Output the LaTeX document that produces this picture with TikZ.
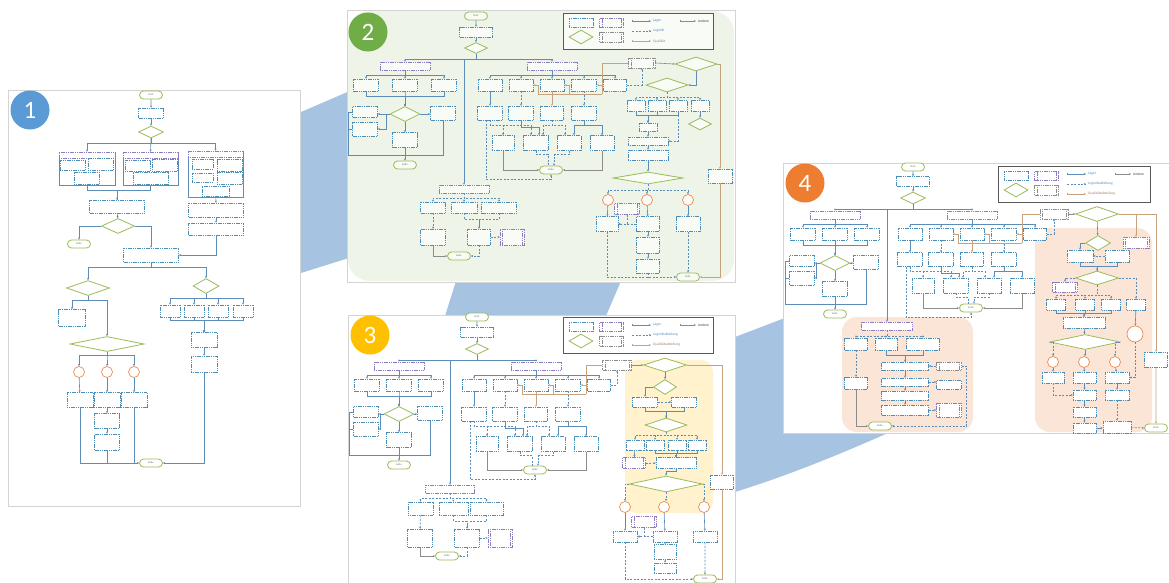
\documentclass[tikz,border=0pt]{standalone}
\usepackage{fontspec}
\setmainfont{Carlito}
\usetikzlibrary{arrows.meta,shapes.geometric,shapes.misc}

\definecolor{lnc}{HTML}{5B8DB8}
\definecolor{bxc}{HTML}{4A8DB7}
\definecolor{olv}{HTML}{9BBB59}
\definecolor{ppl}{HTML}{8E7CC3}
\definecolor{org}{HTML}{F08A4B}
\definecolor{brn}{HTML}{C8A27C}
\definecolor{gry}{HTML}{8C8C8C}
\definecolor{band}{HTML}{A6C3E1}
\definecolor{gbg}{HTML}{EEF4E8}
\definecolor{ybg}{HTML}{FFF2CC}
\definecolor{pbg}{HTML}{FBE5D6}
\definecolor{frm}{HTML}{D4D4D4}
\definecolor{nblue}{HTML}{5B9BD5}
\definecolor{ngreen}{HTML}{70AD47}
\definecolor{ngold}{HTML}{FFC000}
\definecolor{norange}{HTML}{ED7D31}
\colorlet{boxfill}{white}

\tikzset{
  ar/.style={-{Stealth[length=2.2pt,width=2pt]}},
  ln/.style={draw=lnc,line width=0.6pt},
  lg/.style={ln,dash pattern=on 2pt off 1.5pt},
  ql/.style={draw=brn,line width=0.6pt},
  an/.style={draw=gry,line width=0.6pt},
  bx/.style={draw=bxc,line width=0.5pt,dash pattern=on 1.2pt off 0.6pt,fill=boxfill,inner sep=0pt},
  grp/.style={draw=lnc,line width=0.5pt,fill=boxfill,inner sep=0pt},
  hd/.style={draw=ppl,line width=0.5pt,dash pattern=on 1.2pt off 0.6pt,fill=boxfill,inner sep=0pt},
  dm/.style={diamond,draw=olv,line width=0.8pt,fill=boxfill,inner sep=0pt},
  tm/.style={rounded rectangle,draw=olv,line width=0.8pt,fill=boxfill,inner sep=0pt,
    minimum width=23pt,minimum height=8pt,font=\fontsize{2.6}{3}\selectfont,text=black!60},
  oc/.style={circle,draw=org,line width=0.7pt,fill=boxfill,inner sep=0pt,minimum size=11pt},
  cd/.style={chamfered rectangle,chamfered rectangle corners=north west,
    chamfered rectangle xsep=2pt,draw=bxc,line width=0.5pt,dash pattern=on 1.2pt off 0.6pt,
    fill=boxfill,inner sep=0pt},
  sb/.style={draw=#1,line width=0.5pt,dash pattern=on 1.2pt off 0.6pt,fill=boxfill,inner sep=0pt,
    path picture={\draw[draw=#1,line width=0.4pt]
      ([xshift=2.2pt]path picture bounding box.north west) -- ([xshift=2.2pt]path picture bounding box.south west)
      ([xshift=-2.2pt]path picture bounding box.north east) -- ([xshift=-2.2pt]path picture bounding box.south east);}},
  lgf/.style={draw=black!65,line width=0.8pt,fill=boxfill,inner sep=0pt},
  lt/.style={anchor=west,inner sep=0pt,font=\fontsize{3.6}{4}\selectfont},
  num/.style={circle,minimum size=39pt,inner sep=0pt,text=white,font=\fontsize{25}{25}\selectfont},
  pnl/.style={draw=frm,line width=0.8pt,fill=white},
}

% basic flowchart elements: name, x, y, width, height
\newcommand\fcB[5]{\node[bx,minimum width=#4pt,minimum height=#5pt] (#1) at ({#2},{#3}) {};}
\newcommand\fcD[5]{\node[dm,minimum width=#4pt,minimum height=#5pt] (#1) at ({#2},{#3}) {};}
\newcommand\fcT[4]{\node[tm] (#1) at ({#2},{#3}) {#4};}
\newcommand\fcC[3]{\node[oc] (#1) at ({#2},{#3}) {};}
\newcommand\fcH[5]{\node[hd,minimum width=#4pt,minimum height=#5pt] (#1) at ({#2},{#3}) {};}
\newcommand\fcK[5]{\node[cd,minimum width=#4pt,minimum height=#5pt] (#1) at ({#2},{#3}) {};}
\newcommand\fcS[6]{\node[sb=#6,minimum width=#4pt,minimum height=#5pt] (#1) at ({#2},{#3}) {};}

% left branch: prefix, centre x, header y, column spacing
\newcommand\fcleft[4]{%
  \fcH{#1h1}{#2}{#3}{50}{8}
  \fcB{#1a1}{#2-#4}{#3+19}{25}{12}
  \fcB{#1a2}{#2}{#3+19}{25}{12}
  \fcB{#1a3}{#2+#4}{#3+19}{25}{12}
  \fcD{#1d2}{#2}{#3+48}{30}{15}
  \fcB{#1a4}{#2-#4-1}{#3+46}{25}{11}
  \fcB{#1a5}{#2-#4-1}{#3+63}{25}{14}
  \fcB{#1a6}{#2+#4-1}{#3+47}{25}{14}
  \fcB{#1a7}{#2}{#3+74}{25}{15}
  \fcT{#1e1}{#2}{#3+99}{Ende}
  \foreach \k in {1,2,3}{%
    \draw[ln,ar] (#1h1.south) -- ++(0,5) -| (#1a\k.north);
    \draw[ln,ar] (#1a\k.south) -- ++(0,5) -| (#1d2.north);}
  \draw[ln,ar] (#1d2.west) -- (#1d2.west -| #1a4.east);
  \draw[ln,ar] (#1d2.west) -- ++(-3,0) |- (#1a5.east);
  \draw[ln,ar] (#1d2.east) -- (#1d2.east -| #1a6.west);
  \draw[ln,ar] (#1d2.south) -- (#1a7.north);
  \draw[ln,ar] (#1a7) -- (#1e1);
  \draw[ln] (#1a6.south) |- ({#2-#4-18},{#3+89}) |- (#1a4.west);
  \draw[ln] (#1a5.west) -- ({#2-#4-18},{#3+63});
}

% middle branch: prefix, centre x, header y, row 2 y, row 3 y, end y
\newcommand\fcmid[6]{%
  \fcH{#1h2}{#2}{#3}{50}{8}
  \fcB{#1m1}{#2-62}{#3+19}{24}{12}
  \fcB{#1m2}{#2-31}{#3+19}{24}{12}
  \fcB{#1m3}{#2}{#3+19}{24}{12}
  \fcB{#1m4}{#2+32}{#3+19}{25}{12}
  \fcB{#1m5}{#2+63}{#3+19}{23}{12}
  \fcB{#1n1}{#2-62}{#4}{25}{14}
  \fcB{#1n2}{#2-31}{#4}{25}{14}
  \fcB{#1n3}{#2}{#4}{23}{14}
  \fcB{#1n4}{#2+32}{#4}{25}{14}
  \fcB{#1o1}{#2-49}{#5}{22}{15}
  \fcB{#1o2}{#2-16}{#5}{25}{15}
  \fcB{#1o3}{#2+17}{#5}{24}{15}
  \fcB{#1o4}{#2+50}{#5}{24}{15}
  \fcT{#1e2}{#2-1}{#6}{Ende}
  \coordinate (#1brn) at ({#2+50},{#3+28});
  \foreach \k in {1,...,5}{\draw[ln,ar] (#1h2.south) -- ++(0,5) -| (#1m\k.north);}
  \draw[ln,ar] (#1m1) -- (#1n1);
  \draw[lg,ar] (#1m2) -- (#1n2);
  \draw[ql,ar] (#1m3) -- (#1n3);
  \draw[lg,ar] (#1m4) -- (#1n4);
  \draw[ql] (#1brn) -- ({#2-14},{#3+28});
  \draw[ql,ar] ({#2-14},{#3+28}) |- (#1m2.east);
  \draw[ql,ar] ({#2+17},{#3+28}) |- (#1m3.east);
  \draw[ql,ar] (#1brn) |- (#1m4.east);
  \draw[lg,ar] (#1n1.south) -- ++(0,5) -| (#1o1.north);
  \draw[lg,ar] (#1n1.south) -- ++(0,5) -| ([xshift=-5pt]#1o2.north);
  \draw[ln,ar] (#1n2.south) -- ++(0,7) -| ([xshift=3pt]#1o2.north);
  \draw[lg,ar] (#1n3.south) -- ++(0,5) -| ([xshift=-4pt]#1o3.north);
  \draw[lg,ar] (#1n3.south) -- ++(0,5) -| ([xshift=7pt]#1o2.north);
  \draw[ln,ar] (#1n4.south) -- ++(0,5) -| (#1o4.north);
  \draw[ln,ar] (#1n4.south) -- ++(0,5) -| ([xshift=5pt]#1o3.north);
  \draw[an,ar] (#1o1.south) |- (#1e2.west);
  \draw[an,ar] (#1o4.south) |- (#1e2.east);
  \draw[lg] (#1o2.south) -- ++(0,4) -| ([xshift=-3pt]#1e2.north);
  \draw[lg,ar] (#1o3.south) -- ++(0,4) -| ([xshift=3pt]#1e2.north);
  \draw[lg,ar] ([xshift=-4pt]#1n1.south) |- ([yshift=-5pt]#1e2.south) -- (#1e2.south);
}

% legend: prefix, left x, top y, width, second label, third label
\newcommand\fcleg[6]{%
  \node[lgf,minimum width=#4pt,minimum height=36pt,anchor=north west] (#1L) at ({#2},{#3}) {};
  \fcB{#1L1}{#2+18}{#3+10}{24}{9}
  \fcD{#1L2}{#2+18}{#3+24}{24}{14}
  \fcS{#1L3}{#2+48.5}{#3+10}{24}{9}{ppl}
  \fcS{#1L4}{#2+48.5}{#3+24}{24}{10}{gry}
  \coordinate (#1La) at ({#2+69},{#3+8});
  \coordinate (#1Lc) at ({#2+69},{#3+18});
  \coordinate (#1Le) at ({#2+69},{#3+28});
  \coordinate (#1Lg) at ({#2+117},{#3+8});
  \node[lt,text=lnc] (#1Lb) at ({#2+90},{#3+8}) {Lager};
  \node[lt,text=lnc] (#1Ld) at ({#2+90},{#3+18}) {#5};
  \node[lt,text=brn!80!black] (#1Lf) at ({#2+90},{#3+28}) {#6};
  \node[lt,text=black!75] (#1Lh) at ({#2+135},{#3+8}) {Andere};
  \draw[ln,ar] ([yshift=1.5pt]#1La) -- (#1La) -- ([xshift=-2pt]#1Lb.west);
  \draw[lg,ar] (#1Lc) -- ([xshift=-2pt]#1Ld.west);
  \draw[ql,ar] ([yshift=1.5pt]#1Le) -- (#1Le) -- ([xshift=-2pt]#1Lf.west);
  \draw[an,ar] ([yshift=1.5pt]#1Lg) -- (#1Lg) -- ([xshift=-2pt]#1Lh.west);
}

\begin{document}
\begin{tikzpicture}[x=1pt,y=-1pt]
\useasboundingbox (0,0) rectangle (1169,582);

% bands joining the sheets
\fill[band] (301,112) -- (352,90) -- (352,257) -- (301,273) -- cycle;
\fill[band] (456,281) -- (621,281) -- (606,316) -- (445,316) -- cycle;
\fill[band] (735,337) -- (790,316) -- (790,433) -- (888,433)
  .. controls (845,452) and (790,475) .. (735,492) -- cycle;

% sheets and highlighted areas
\draw[pnl] (8,90) rectangle (300,506);
\draw[pnl] (347,10) rectangle (735,282);
\fill[gbg,rounded corners=22pt] (348,11) rectangle (734,281);
\draw[pnl] (348,315) rectangle (735,590);
\fill[ybg,rounded corners=12pt] (625,360) rectangle (713,513);
\draw[pnl] (783,163) rectangle (1175,433);
\fill[pbg,rounded corners=15pt] (842,317) rectangle (973,432);
\fill[pbg,rounded corners=15pt] (1035,228) rectangle (1152,432);

% ================= sheet 1 =================
\fcT{p1s}{151}{95}{Start}
\fcB{p1b1}{151}{113}{25}{10}
\fcD{p1d1}{151}{132}{25}{12}
\node[grp,minimum width=56pt,minimum height=33pt] (p1g1) at (87,168.5) {};
\node[hd,minimum width=56pt,minimum height=6pt,anchor=north] (p1h1) at (p1g1.north) {};
\fcB{p1g1a}{72.5}{165}{25}{10}
\fcB{p1g1b}{100.5}{164}{25}{12}
\fcB{p1g1c}{86.5}{178}{25}{12}
\node[grp,minimum width=55pt,minimum height=33pt] (p1g2) at (150.5,168.5) {};
\node[hd,minimum width=55pt,minimum height=6pt,anchor=north] (p1h2) at (p1g2.north) {};
\fcB{p1g2a}{137.5}{165.5}{25}{11}
\fcB{p1g2b}{164.5}{165}{25}{12}
\fcB{p1g2c}{150.5}{178}{35}{12}
\node[grp,minimum width=55pt,minimum height=46pt] (p1g3) at (215.5,174) {};
\node[hd,minimum width=55pt,minimum height=6pt,anchor=north] (p1h3) at (p1g3.north) {};
\fcB{p1g3a}{202.5}{164}{21}{10}
\fcB{p1g3b}{229.5}{165.5}{25}{12}
\fcB{p1g3c}{202.5}{177.5}{21}{9}
\fcB{p1g3d}{229.5}{178}{25}{12}
\fcB{p1g3e}{215.5}{191}{27}{10}
\fcB{p1b2}{117}{206.5}{55}{13}
\fcD{p1d2}{118}{226}{33}{15}
\fcT{p1e1}{79}{244}{Ende}
\fcB{p1b3}{151}{255}{55}{14}
\fcB{p1b4}{216}{210}{55}{14}
\fcB{p1b5}{216}{229}{55}{12}
\fcD{p1d3}{88}{288}{43}{15}
\fcD{p1d4}{206}{286}{26}{15}
\fcB{p1b6}{72}{318}{27}{17}
\fcD{p1d5}{107}{344}{74}{15}
\fcC{p1c1}{79}{372}
\fcC{p1c2}{107}{372}
\fcC{p1c3}{134}{372}
\fcB{p1b7}{80}{400}{26}{15}
\fcB{p1b8}{107}{400}{26}{15}
\fcB{p1b9}{134}{400}{26}{15}
\fcB{p1b10}{107}{421}{25}{15}
\fcB{p1b11}{107}{442}{25}{16}
\fcT{p1e2}{151}{463}{Ende}
\fcK{p1k1}{170}{311}{20}{12}
\fcK{p1k2}{194}{311}{20}{12}
\fcK{p1k3}{218}{311}{20}{12}
\fcK{p1k4}{243}{311}{20}{12}
\fcB{p1b12}{204}{340}{26}{15}
\fcB{p1b13}{204}{364}{26}{16}

\draw[ln,ar] (p1s) -- (p1b1);
\draw[ln,ar] (p1b1) -- (p1d1);
\draw[ln,ar] (p1d1.south) -- ++(0,5) -| (p1g1.north);
\draw[ln,ar] (p1d1.south) -- (p1g2.north);
\draw[ln,ar] (p1d1.south) -- ++(0,5) -| (p1g3.north);
\draw[ln,ar] (p1g1.south) -- ++(0,5) -| (p1b2.north);
\draw[ln] (p1g2.south) -- ++(0,5) -| (p1b2.north);
\draw[ln,ar] (p1g3) -- (p1b4);
\draw[ln,ar] (p1b4) -- (p1b5);
\draw[ln,ar] (p1b2) -- (p1d2);
\draw[ln,ar] (p1d2.west) -| (p1e1.north);
\draw[ln,ar] (p1d2.east) -| (p1b3.north);
\draw[ln,ar] (p1b5.south) |- (p1b3.east);
\draw[ln,ar] (p1b3.south) -- ++(0,5) -| (p1d3.north);
\draw[ln,ar] (p1b3.south) -- ++(0,5) -| (p1d4.north);
\draw[ln,ar] (p1d3.south) -- ++(0,4.5) -| (p1b6.north);
\draw[ln,ar] (p1d3.south) -- ++(0,4.5) -| (p1d5.north);
\foreach \k in {1,2,3}{\draw[ln,ar] (p1d5.south) -- ++(0,3.5) -| (p1c\k.north);}
\draw[ln,ar] (p1c1) -- (p1b7);
\draw[ln,ar] (p1c2) -- (p1b8);
\draw[ln,ar] (p1c3) -- (p1b9);
\draw[ln,ar] (p1b8) -- (p1b10);
\draw[ln,ar] (p1b10) -- (p1b11);
\draw[ln,ar] (p1b7.south) |- (p1e2.west);
\draw[ln] (p1b11.south) -- (p1b11.south |- p1e2.west);
\draw[ln] (p1b9.south) -- (p1b9.south |- p1e2.west);
\foreach \k in {1,2,3,4}{%
  \draw[ln,ar] (p1d4.south) -- ++(0,4.5) -| (p1k\k.north);
  \draw[ln,ar] (p1k\k.south) -- ++(0,3) -| (p1b12.north);}
\draw[ln,ar] (p1b12) -- (p1b13);
\draw[ln,ar] (p1b13.south) |- (p1e2.east);

% ================= sheet 2 =================
\begin{scope}
\colorlet{boxfill}{gbg!40!white}
\fcT{p2s}{476}{16}{Start}
\fcB{p2b1}{476}{32}{33}{10}
\fcD{p2d1}{476}{48}{23}{11}
\fcleft{p2}{405}{66}{39}
\fcmid{p2}{552}{66}{113}{143}{170}
\fcH{p2h3}{464}{189}{50}{8}
\draw[ln,ar] (p2s) -- (p2b1);
\draw[ln,ar] (p2b1) -- (p2d1);
\draw[ln,ar] (p2d1.south) -- ++(0,5) -| (p2h1.north);
\draw[ln,ar] (p2d1.south) -- ++(0,5) -| (p2h2.north);
\draw[ln,ar] (p2d1.south) -- ++(0,5) -| (p2h3.north);
% delivery branch
\fcB{p2l1}{433}{207.5}{25}{11}
\fcB{p2l2}{464}{207.5}{26}{11}
\fcB{p2l3}{499}{207.5}{35}{11}
\fcB{p2l4}{433}{237}{25}{16}
\fcB{p2l5}{479}{237}{23}{16}
\fcS{p2l6}{512}{237}{24}{16}{ppl}
\fcT{p2e4}{459}{256}{Ende}
\foreach \k in {1,2,3}{\draw[lg,ar] (p2h3.south) -- ++(0,5) -| (p2l\k.north);}
\draw[lg,ar] (p2l1) -- (p2l4);
\draw[lg] (p2l2.south) -- ++(0,6) -| (p2l5.north);
\draw[lg,ar] (p2l3.south) -- ++(0,6) -| (p2l5.north);
\draw[lg,ar] (p2l5.east) -- (p2l6.west);
\draw[an,ar] (p2l4.south) |- (p2e4.west);
\draw[lg,ar] (p2l5.south) |- (p2e4.east);
% quality branch
\fcS{p2q1}{642}{63}{27}{10}{gry}
\fcD{p2d3}{696}{64}{42}{14}
\fcD{p2d4}{667}{85}{42}{14}
\fcK{p2k1}{636}{106}{18}{11}
\fcK{p2k2}{657}{106}{18}{11}
\fcK{p2k3}{678}{106}{18}{11}
\fcK{p2k4}{700}{106}{18}{11}
\fcD{p2d5}{700}{124}{23}{12}
\fcB{p2r1}{648}{127}{18}{8}
\fcB{p2r2}{648}{141}{40}{8}
\fcB{p2r3}{648}{155}{40}{10}
\fcD{p2d6}{648}{178}{70}{12}
\fcC{p2c1}{608}{200}
\fcC{p2c2}{647}{200}
\fcC{p2c3}{688}{200}
\fcS{p2r4}{627}{209}{25}{11}{ppl}
\fcB{p2r5}{607}{224}{22}{15}
\fcB{p2r6}{648}{224}{23}{15}
\fcB{p2r7}{688}{224}{24}{15}
\fcB{p2r8}{648}{245}{23}{16}
\fcB{p2r9}{648}{266}{23}{14}
\fcT{p2e3}{688}{277}{Ende}
\fcB{p2r10}{720}{176}{24}{14}
\draw[lg,ar] (p2m5.east) -| (p2q1.south);
\draw[ql] (p2q1.west) -| (p2brn);
\draw[an,ar] (p2q1.east) -- (p2d3.west);
\draw[ql,ar] (p2d3.east) -| (p2r10.north);
\draw[ln,ar] (p2d3.south) |- (p2d4.east);
\foreach \k in {1,2,3,4}{\draw[lg,ar] (p2d4.south) -- ++(0,5) -| (p2k\k.north);}
\foreach \k in {1,2,3}{\draw[ln,ar] (p2k\k.south) -- ++(0,4) -| (p2r1.north);}
\draw[ln,ar] (p2k4) -- (p2d5);
\draw[lg,ar] (p2k3.south) |- (p2r2.east);
\draw[ln,ar] (p2r1) -- (p2r2);
\draw[ln,ar] (p2r2) -- (p2r3);
\draw[ln,ar] (p2r3) -- (p2d6);
\foreach \k in {1,2,3}{\draw[lg,ar] (p2d6.south) -- ++(0,6) -| (p2c\k.north);}
\draw[ln,ar] (p2c1) -- (p2r5);
\draw[ln,ar] (p2c2) -- (p2r6);
\draw[ln,ar] (p2c3) -- (p2r7);
\draw[lg,ar] (p2r6.west) -- (p2r5.east);
\draw[lg,ar] (p2r4.south) |- (p2r5.east);
\draw[ln,ar] (p2r6) -- (p2r8);
\draw[ln,ar] (p2r8) -- (p2r9);
\draw[lg,ar] (p2r5.south) |- (p2e3.west);
\draw[lg,ar] (p2r7) -- (p2e3);
\draw[lg] (p2r9.south) -- (p2r9.south |- p2e3.west);
\draw[ql,ar] (p2r10.south) |- (p2e3.east);
\fcleg{p2}{563}{13}{150}{Logistik}{Qualität}
\end{scope}

% ================= sheet 3 =================
\fcT{p3s}{477}{317}{Start}
\fcB{p3b1}{477}{332}{33}{10}
\fcD{p3d1}{477}{349}{23}{11}
\fcleft{p3}{399}{366}{32}
\fcmid{p3}{536}{366}{414}{444}{470}
\fcH{p3h3}{450}{489}{49}{8}
\draw[ln,ar] (p3s) -- (p3b1);
\draw[ln,ar] (p3b1) -- (p3d1);
\draw[ln,ar] (p3d1.south) -- ++(0,5) -| (p3h1.north);
\draw[ln,ar] (p3d1.south) -- ++(0,5) -| (p3h2.north);
\draw[ln,ar] (p3d1.south) -- ++(0,5) -| (p3h3.north);
% delivery branch
\fcB{p3l1}{420.5}{508.5}{25}{13}
\fcB{p3l2}{453.5}{508.5}{29}{13}
\fcB{p3l3}{486.5}{508.5}{33}{13}
\fcB{p3l4}{420}{538}{25}{18}
\fcB{p3l5}{467}{538}{25}{18}
\fcS{p3l6}{500}{538}{24}{18}{ppl}
\fcT{p3e4}{447}{556}{Ende}
\foreach \k in {1,2,3}{\draw[lg,ar] (p3h3.south) -- ++(0,5) -| (p3l\k.north);}
\draw[lg,ar] (p3l1) -- (p3l4);
\draw[lg] (p3l2.south) -- ++(0,6) -| (p3l5.north);
\draw[lg,ar] (p3l3.south) -- ++(0,6) -| (p3l5.north);
\draw[lg,ar] (p3l5.east) -- (p3l6.west);
\draw[an,ar] (p3l4.south) |- (p3e4.west);
\draw[lg,ar] (p3l5.south) |- (p3e4.east);
% quality branch
\fcS{p3q1}{617}{365}{29}{10}{gry}
\fcD{p3d3}{665}{365}{43}{14}
\fcD{p3d4}{665}{387}{23}{15}
\fcB{p3r1}{645}{402}{25}{10}
\fcB{p3r2}{684}{402}{25}{10}
\fcD{p3d5}{666}{425}{42}{14}
\fcK{p3k1}{635}{445}{18}{10}
\fcK{p3k2}{655}{445}{18}{10}
\fcK{p3k3}{677}{445}{18}{10}
\fcK{p3k4}{697}{445}{18}{10}
\fcS{p3r3}{634}{463}{23}{11}{ppl}
\fcB{p3r4}{676}{463}{40}{11}
\fcD{p3d6}{666}{484}{73}{16}
\fcC{p3c1}{625}{507}
\fcC{p3c2}{664}{507}
\fcC{p3c3}{704}{507}
\fcS{p3r5}{644}{522}{25}{11}{ppl}
\fcB{p3r6}{625}{536.5}{24}{11}
\fcB{p3r7}{665}{536.5}{24}{11}
\fcB{p3r8}{705}{536.5}{24}{11}
\fcB{p3r9}{665}{552}{22}{15}
\fcB{p3r10}{665}{568}{22}{10}
\fcT{p3e3}{705}{579}{Ende}
\fcB{p3r11}{722}{482}{23}{14}
\draw[lg,ar] (p3m5.east) -| (p3q1.south);
\draw[ql] (p3q1.west) -| (p3brn);
\draw[an,ar] (p3q1.east) -- (p3d3.west);
\draw[ql,ar] (p3d3.east) -| (p3r11.north);
\draw[ln,ar] (p3d3) -- (p3d4);
\draw[ln,ar] (p3d4.west) -| (p3r1.north);
\draw[lg,ar] (p3r1.east) -- (p3r2.west);
\draw[ln] (p3r1.south) -- ++(0,4) -| (p3d5.north);
\draw[ln,ar] (p3r2.south) -- ++(0,4) -| (p3d5.north);
\foreach \k in {1,2,3,4}{\draw[lg,ar] (p3d5.south) -- ++(0,3) -| (p3k\k.north);}
\draw[ln,ar] (p3k1) -- (p3r3);
\foreach \k in {2,3,4}{\draw[ln,ar] (p3k\k.south) -- ++(0,3) -| (p3r4.north);}
\draw[lg,ar] (p3r3.east) -- (p3r4.west);
\draw[ln,ar] (p3r4.south) -- ++(0,3) -| (p3d6.north);
\draw[lg,ar] (p3d6.west) -| (p3c1.north);
\draw[lg,ar] (p3d6.south) -- (p3d6.south |- p3c2.north);
\draw[lg,ar] (p3d6.east) -| (p3c3.north);
\draw[ln,ar] (p3c1) -- (p3r6);
\draw[ln,ar] (p3c2) -- (p3r7);
\draw[ln,ar] (p3c3) -- (p3r8);
\draw[lg,ar] (p3r7.west) -- (p3r6.east);
\draw[lg,ar] (p3r5.south) |- (p3r6.east);
\draw[ln,ar] (p3r7) -- (p3r9);
\draw[ln,ar] (p3r9) -- (p3r10);
\draw[lg,ar] (p3r6.south) |- (p3e3.west);
\draw[lg,ar] (p3r8) -- (p3e3);
\draw[ql,ar] (p3r11.south) |- (p3e3.east);
\fcleg{p3}{563}{317}{150}{Logistikabteilung}{Qualitätsabteilung}

% ================= sheet 4 =================
\fcT{p4s}{913}{167}{Start}
\fcB{p4b1}{913}{181.5}{33}{10}
\fcD{p4d1}{913}{198}{25}{12}
\fcleft{p4}{835}{215}{32}
\fcmid{p4}{972}{215}{259.5}{285.5}{308}
\fcH{p4h3}{887}{326}{51}{8}
\draw[ln,ar] (p4s) -- (p4b1);
\draw[ln,ar] (p4b1) -- (p4d1);
\draw[ln,ar] (p4d1.south) -- ++(0,5) -| (p4h1.north);
\draw[ln,ar] (p4d1.south) -- ++(0,5) -| (p4h2.north);
\draw[ln,ar] (p4d1.south) -- ++(0,5) -| (p4h3.north);
% delivery branch
\fcB{p4l1}{856}{344}{23}{12}
\fcB{p4l2}{886}{344}{22}{12}
\fcB{p4l3}{923}{344}{33}{12}
\fcB{p4l4}{856}{383}{23}{12}
\fcB{p4f1}{905}{366}{47}{8}
\fcS{p4f2}{949}{366}{25}{8}{gry}
\fcB{p4f3}{905}{382}{47}{8}
\fcB{p4f4}{949}{385}{25}{9}
\fcB{p4f5}{905}{395.5}{47}{9}
\fcB{p4f6}{905}{410}{47}{10}
\fcS{p4f7}{949}{410}{25}{14}{ppl}
\fcT{p4e4}{880}{426}{Ende}
\foreach \k in {1,2,3}{\draw[lg,ar] (p4h3.south) -- ++(0,6) -| (p4l\k.north);}
\draw[lg,ar] (p4l1) -- (p4l4);
\draw[ln] (p4l2.south) -- ++(0,5) -| (p4f1.north);
\draw[ln,ar] (p4l3.south) -- ++(0,5) -| (p4f1.north);
\draw[ln,ar] (p4f1) -- (p4f3);
\draw[ln,ar] (p4f3) -- (p4f5);
\draw[ln,ar] (p4f5) -- (p4f6);
\draw[lg,ar] (p4f2.west) -- (p4f1.east);
\draw[lg,ar] (p4f3.east) -- (p4f3.east -| p4f4.west);
\draw[lg,ar] (p4f6.east) -- (p4f7.west);
\draw[lg,ar] (p4f2.east) -- ++(5,0) |- (p4e4.east);
\draw[an,ar] (p4l4.south) |- (p4e4.west);
% quality branch
\fcS{p4q1}{1054}{214}{28}{10}{gry}
\fcD{p4d3}{1097}{214}{43}{15}
\fcD{p4d4}{1098}{243}{25}{15}
\fcS{p4g1}{1136}{242.5}{26}{11}{ppl}
\fcB{p4r1}{1080}{256}{26}{12}
\fcB{p4r2}{1117}{256}{24}{12}
\fcD{p4d5}{1097}{278}{43}{14}
\fcS{p4g2}{1065}{287}{25}{10}{ppl}
\fcK{p4k1}{1056}{304.5}{19}{11}
\fcK{p4k2}{1085}{304.5}{19}{11}
\fcK{p4k3}{1111}{304.5}{19}{11}
\fcK{p4k4}{1136}{304.5}{19}{11}
\fcB{p4r3}{1084}{322.5}{42}{11}
\fcD{p4d6}{1085}{342}{70}{15}
\node[oc,minimum size=16pt] (p4cb) at (1135,334) {};
\fcC{p4c1}{1053}{362}
\fcC{p4c2}{1084}{362}
\fcC{p4c3}{1115}{362}
\fcB{p4r4}{1053}{377.5}{22}{11}
\fcB{p4r5}{1084.5}{377.5}{23}{11}
\fcB{p4r6}{1117}{377.5}{24}{11}
\fcB{p4r7}{1084.5}{395}{23}{10}
\fcB{p4r8}{1117}{395}{24}{10}
\fcB{p4r9}{1084.5}{412}{23}{10}
\fcB{p4r10}{1084.5}{428}{23}{10}
\fcB{p4r11}{1117}{427}{28}{12}
\fcT{p4e3}{1156}{428}{Ende}
\fcB{p4r12}{1156}{359.5}{23}{15}
\draw[lg,ar] (p4m5.east) -| (p4q1.south);
\draw[ql] (p4q1.west) -| (p4brn);
\draw[an,ar] (p4q1.east) -- (p4d3.west);
\draw[ql,ar] (p4d3.east) -| (p4r12.north);
\draw[ql,ar] (p4d3.east) -| (p4g1.north);
\draw[ln,ar] (p4d3) -- (p4d4);
\draw[ln,ar] (p4d4.west) -| (p4r1.north);
\draw[lg,ar] (p4r2.west) -- (p4r1.east);
\draw[ln] (p4r1.south) -- ++(0,4) -| (p4d5.north);
\draw[ln,ar] (p4r2.south) -- ++(0,4) -| (p4d5.north);
\draw[lg,ar] (p4d5.west) -| (p4g2.north);
\foreach \k in {1,2,3}{\draw[lg,ar] (p4d5.south) -- ++(0,10) -| (p4k\k.north);}
\draw[lg,ar] (p4d5.east) -| (p4k4.north);
\foreach \k in {1,2,3}{\draw[ln,ar] (p4k\k.south) -- ++(0,3) -| (p4r3.north);}
\draw[ln,ar] (p4k4) -- (p4cb);
\draw[ln,ar] (p4r3) -- (p4d6);
\draw[lg,ar] (p4d6.west) -| (p4c1.north);
\draw[ln,ar] (p4d6.south) -- (p4d6.south |- p4c2.north);
\draw[lg,ar] (p4d6.east) -| (p4c3.north);
\draw[ln,ar] (p4c1) -- (p4r4);
\draw[ln,ar] (p4c2) -- (p4r5);
\draw[ln,ar] (p4c3) -- (p4r6);
\draw[lg,ar] (p4cb.south) |- (p4r6.east);
\draw[lg,ar] (p4r4.south) |- (p4r7.west);
\draw[ln,ar] (p4r5) -- (p4r7);
\draw[ln,ar] (p4r7) -- (p4r9);
\draw[ln,ar] (p4r9) -- (p4r10);
\draw[ln,ar] (p4r6) -- (p4r8);
\draw[lg,ar] (p4r8) -- (p4r11);
\draw[ln,ar] (p4r10.east) -- (p4r10.east -| p4r11.west);
\draw[lg,ar] (p4r11.east) -- (p4e3.west);
\draw[ql,ar] (p4r12) -- (p4e3);
\fcleg{p4}{998}{166}{152}{Logistikabteilung}{Qualitätsabteilung}

% sheet numbers
\node[num,fill=nblue] (n1) at (30,110) {1};
\node[num,fill=ngreen] (n2) at (368,32) {2};
\node[num,fill=ngold] (n3) at (370,335) {3};
\node[num,fill=norange] (n4) at (805,183) {4};
\end{tikzpicture}
\end{document}
